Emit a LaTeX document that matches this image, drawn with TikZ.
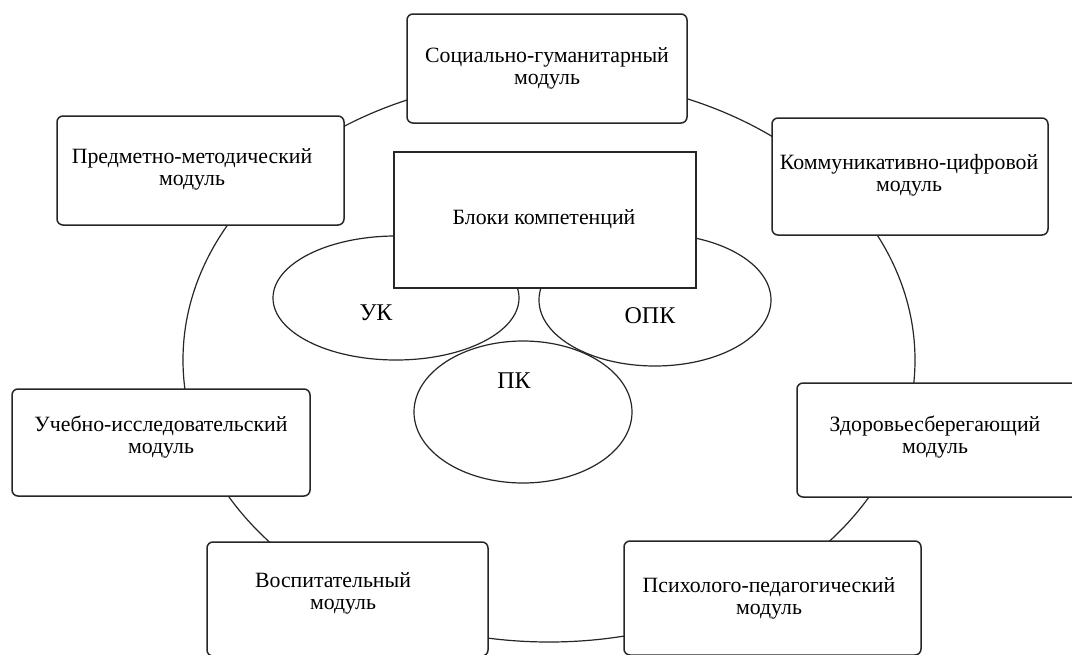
\documentclass[tikz,border=0pt]{standalone}
\usepackage{fontspec}
\setmainfont{Liberation Serif}
\usetikzlibrary{shapes.geometric}
\begin{document}
\begin{tikzpicture}[x=1pt,y=-1pt,
  modbox/.style={draw=black!85,line width=1.5pt,rounded corners=6pt,fill=white,minimum width=#1,inner sep=0pt},
  blokbox/.style={draw=black!85,line width=1.4pt,fill=white,inner sep=0pt},
  oval/.style={draw=black!85,line width=1.2pt,ellipse,inner sep=0pt},
  lbl/.style={font=\fontsize{21.8}{22}\selectfont,align=center,inner sep=0pt},
  ellbl/.style={font=\fontsize{24}{26}\selectfont,inner sep=0pt}]
\clip (0,0) rectangle (1072,654);
\fill[white] (0,0) rectangle (1072,654);
% ring
\node[oval,minimum width=732pt,minimum height=564pt] (ring) at (549,360) {};
% competence ellipses
\node[oval,minimum width=246pt,minimum height=124pt] (uk) at (396,298) {};
\node[oval,minimum width=232pt,minimum height=132pt] (opk) at (655,300) {};
\node[oval,minimum width=218pt,minimum height=142pt] (pk) at (523,412) {};
% central block
\node[blokbox,minimum width=302pt,minimum height=136pt] (blok) at (545,220) {};
% module boxes
\node[modbox=280pt,minimum height=109pt] (soc) at (547,68.5) {};
\node[modbox=287pt,minimum height=109pt] (pred) at (200.5,170.5) {};
\node[modbox=276pt,minimum height=117pt] (kom) at (910,176.5) {};
\node[modbox=298pt,minimum height=107pt] (ucheb) at (161,442.5) {};
\node[modbox=288pt,minimum height=114pt] (zdor) at (941,440) {};
\node[modbox=281pt,minimum height=114pt] (vosp) at (347.5,599) {};
\node[modbox=297pt,minimum height=114pt] (psih) at (772.5,598) {};
% texts
\node[lbl] (soc-t) at (547,68) {Социально-гуманитарный\\модуль};
\node[lbl] (pred-t) at (192,169) {Предметно-методический\\модуль};
\node[lbl] (kom-t) at (909,175) {Коммуникативно-цифровой\\модуль};
\node[lbl] (blok-t) at (544,219) {Блоки компетенций};
\node[lbl] (ucheb-t) at (161,437) {Учебно-исследовательский\\модуль};
\node[lbl] (zdor-t) at (935,437) {Здоровьесберегающий\\модуль};
\node[lbl] (vosp-t) at (343,593) {Воспитательный\hspace*{20pt}\\модуль};
\node[lbl] (psih-t) at (769,598) {Психолого-педагогический\\модуль};
\node[ellbl] (uk-t) at (376,313) {УК};
\node[ellbl] (opk-t) at (650,316) {ОПК};
\node[ellbl] (pk-t) at (514,381) {ПК};
\end{tikzpicture}
\end{document}
